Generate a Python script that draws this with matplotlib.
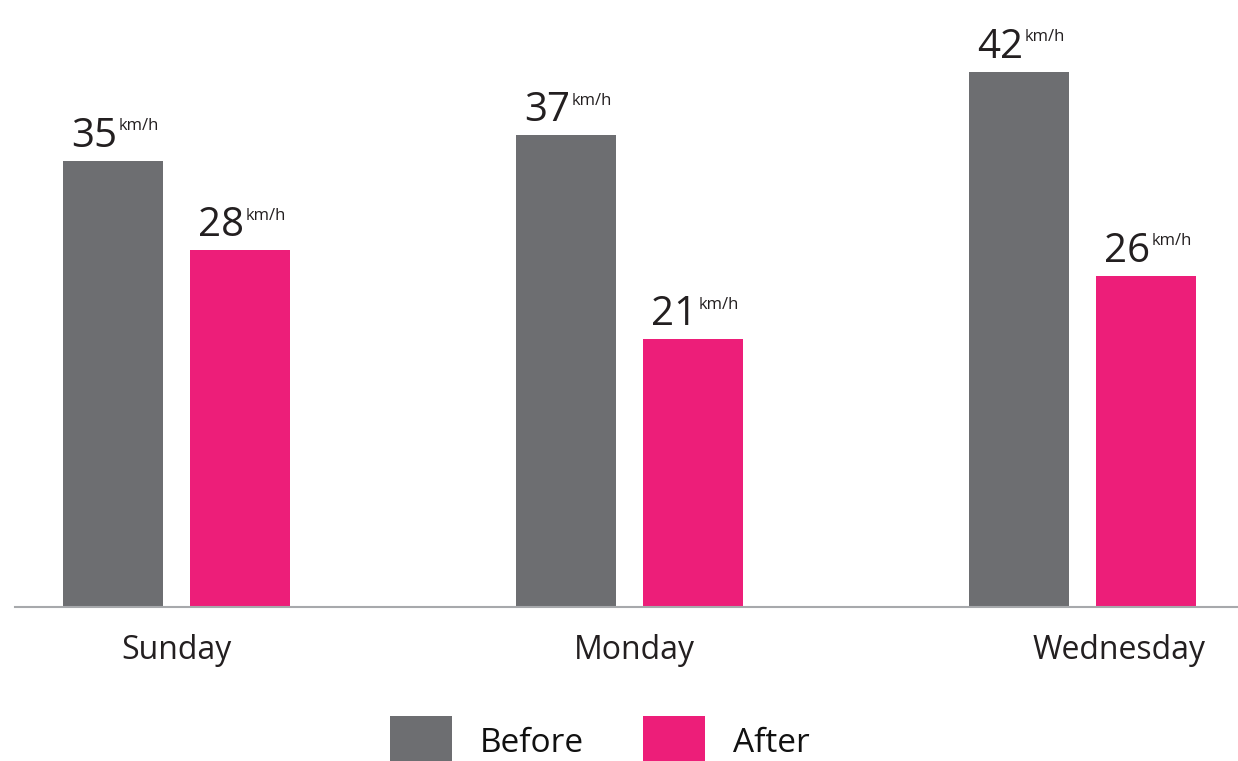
import matplotlib.pyplot as plt
from matplotlib.patches import Rectangle

days = ["Sunday", "Monday", "Wednesday"]
before = [35, 37, 42]
after = [28, 21, 26]
unit = "km/h"
legend_labels = ["Before", "After"]

GREY = "#6d6e71"
PINK = "#ed1e79"
TEXT = "#231f20"

plt.rcParams['font.family'] = ['Open Sans', 'DejaVu Sans']

W, H = 1238, 761
fig = plt.figure(figsize=(W / 100, H / 100), dpi=100)
ax = fig.add_axes([15 / W, 154 / H, 1 - 15 / W, 607 / H])

x = list(range(len(days)))
w = 100 / 453
off = 63.5 / 453
b1 = ax.bar([i - off for i in x], before, width=w, color=GREY)
b2 = ax.bar([i + off for i in x], after, width=w, color=PINK)

ax.set_xlim(-161.5 / 453, (W - 176.5) / 453)
ax.set_ylim(0, 607 / 12.75)

for bars in (b1, b2):
    for r in bars:
        cx = r.get_x() + r.get_width() / 2
        h = r.get_height()
        ax.annotate(f"{h:g}", xy=(cx, h), xytext=(3, 10), textcoords="offset points",
                    ha="right", va="baseline", fontsize=29, color=TEXT)
        ax.annotate(unit, xy=(cx, h), xytext=(4, 30.5), textcoords="offset points",
                    ha="left", va="top", fontsize=12, color=TEXT)

# day labels (Wednesday sits a bit to the right in the original)
shift = [0, 0.01, 0.08]
for i, d in enumerate(days):
    ax.text(i + shift[i], -0.072, d, transform=ax.get_xaxis_transform(),
            ha="center", va="center", fontsize=23, color=TEXT)

for s in ("top", "left", "right"):
    ax.spines[s].set_visible(False)
ax.spines["bottom"].set_color("#a7a9ac")
ax.spines["bottom"].set_linewidth(1.5)
ax.set_xticks([])
ax.set_yticks([])

# legend drawn by hand: squares run off the bottom edge like the original
for lx, col, lab in zip([390, 643], [GREY, PINK], legend_labels):
    fig.add_artist(Rectangle((lx / W, 0), 62 / W, 45 / H, transform=fig.transFigure,
                             color=col, lw=0))
    fig.text((lx + 90) / W, 9 / H, lab, ha="left", va="baseline", fontsize=24, color="#111111")

fig.savefig("out.png", dpi=100)
